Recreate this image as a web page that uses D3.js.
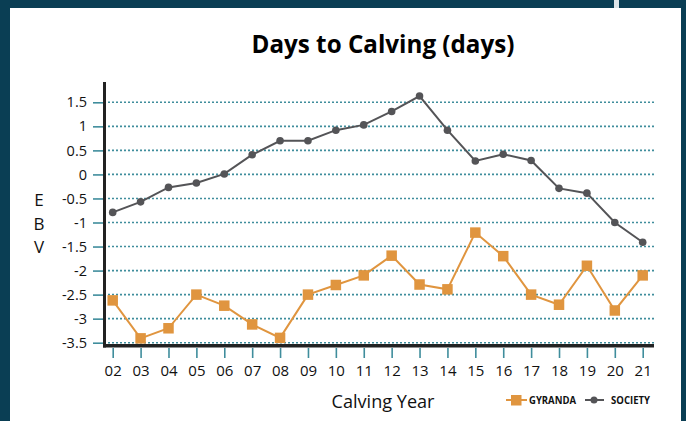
<!DOCTYPE html>
<html>
<head>
<meta charset="utf-8">
<script src="https://cdn.jsdelivr.net/npm/d3@7"></script>
<style>
  html, body { margin: 0; padding: 0; background: #0a3e54; }
  svg { display: block; }
</style>
</head>
<body>
<div id="chart"></div>
<script>
// calving years on the x axis
const years = ['02', '03', '04', '05', '06', '07', '08', '09', '10', '11', '12', '13', '14', '15', '16', '17', '18', '19', '20', '21'];

// EBV values
const gyranda = [-2.62, -3.41, -3.2, -2.5, -2.73, -3.12, -3.4, -2.5, -2.3, -2.1, -1.69, -2.29, -2.39, -1.21, -1.7, -2.5, -2.71, -1.9, -2.83, -2.1];
const society = [-0.79, -0.57, -0.27, -0.18, 0.01, 0.41, 0.7, 0.7, 0.92, 1.03, 1.31, 1.63, 0.92, 0.28, 0.42, 0.29, -0.29, -0.39, -1.0, -1.41];

const yTicks = [1.5, 1, 0.5, 0, -0.5, -1, -1.5, -2, -2.5, -3, -3.5];
const yTickLabels = ['1.5', '1', '0.5', '0', '-0.5', '-1', '-1.5', '-2', '-2.5', '-3', '-3.5'];

const width = 686;
const height = 421;
const orange = '#e0953f';
const grey = '#545457';
const teal = '#3f8d9c';
const font = '"Open Sans", "DejaVu Sans", sans-serif';

const svg = d3.select('#chart')
  .append('svg')
  .attr('width', width)
  .attr('height', height);

// dark frame and white panel
svg.append('rect').attr('width', width).attr('height', height).attr('fill', '#0a3e54');
svg.append('rect').attr('x', 10).attr('y', 8).attr('width', 671).attr('height', height - 8).attr('fill', '#fff');
svg.append('rect').attr('x', 614).attr('y', 0).attr('width', 5).attr('height', 8).attr('fill', '#dde5e8');

const x = d3.scalePoint().domain(years).range([112.7, 642.7]);
const y = d3.scaleLinear().domain([-3.5, 1.5]).range([342.7, 102.3]);

// title
svg.append('text')
  .attr('x', 383).attr('y', 53.3)
  .attr('text-anchor', 'middle')
  .attr('font-family', font)
  .attr('font-weight', 700)
  .attr('font-size', 25)
  .attr('textLength', 263)
  .attr('lengthAdjust', 'spacingAndGlyphs')
  .attr('fill', '#000')
  .text('Days to Calving (days)');

// dotted gridlines
svg.append('g')
  .selectAll('line')
  .data(yTicks)
  .enter()
  .append('line')
  .attr('x1', 104).attr('x2', 654)
  .attr('y1', d => y(d)).attr('y2', d => y(d))
  .attr('stroke', teal)
  .attr('stroke-width', 1.6)
  .attr('stroke-dasharray', '2,2');

// y axis ticks and labels
const yAxis = svg.append('g')
  .attr('transform', 'translate(104,0)')
  .call(d3.axisLeft(y).tickValues(yTicks).tickFormat((d, i) => yTickLabels[i]).tickSize(11).tickPadding(6));
yAxis.select('.domain').remove();
yAxis.selectAll('.tick line').attr('stroke', teal).attr('stroke-width', 1.6);
yAxis.selectAll('.tick text')
  .attr('font-family', font)
  .attr('font-size', 14.5)
  .attr('fill', '#111');

// x axis ticks and labels
const xAxis = svg.append('g')
  .attr('transform', 'translate(0,348)')
  .call(d3.axisBottom(x).tickSize(10).tickPadding(7));
xAxis.select('.domain').remove();
xAxis.selectAll('.tick line').attr('stroke', teal).attr('stroke-width', 1.6);
xAxis.selectAll('.tick text')
  .attr('font-family', font)
  .attr('font-size', 15)
  .attr('fill', '#111');

// heavy axis lines
svg.append('line')
  .attr('x1', 104.5).attr('x2', 104.5).attr('y1', 82).attr('y2', 347.5)
  .attr('stroke', '#222').attr('stroke-width', 3);
svg.append('line')
  .attr('x1', 103).attr('x2', 654).attr('y1', 345.8).attr('y2', 345.8)
  .attr('stroke', '#222').attr('stroke-width', 3.5);

// series lines
const line = d3.line()
  .x((d, i) => x(years[i]))
  .y(d => y(d));

svg.append('path')
  .attr('d', line(society))
  .attr('fill', 'none')
  .attr('stroke', grey)
  .attr('stroke-width', 2);

svg.append('path')
  .attr('d', line(gyranda))
  .attr('fill', 'none')
  .attr('stroke', orange)
  .attr('stroke-width', 2);

svg.append('g')
  .selectAll('circle')
  .data(society)
  .enter()
  .append('circle')
  .attr('cx', (d, i) => x(years[i]))
  .attr('cy', d => y(d))
  .attr('r', 3.8)
  .attr('fill', grey);

const sq = 10.5;
svg.append('g')
  .selectAll('rect')
  .data(gyranda)
  .enter()
  .append('rect')
  .attr('x', (d, i) => x(years[i]) - sq / 2)
  .attr('y', d => y(d) - sq / 2)
  .attr('width', sq)
  .attr('height', sq)
  .attr('fill', orange);

// axis titles
svg.append('text')
  .attr('x', 383).attr('y', 408)
  .attr('text-anchor', 'middle')
  .attr('font-family', font)
  .attr('font-size', 17.5)
  .attr('textLength', 103)
  .attr('lengthAdjust', 'spacingAndGlyphs')
  .attr('fill', '#111')
  .text('Calving Year');

svg.append('g')
  .selectAll('text')
  .data(['E', 'B', 'V'])
  .enter()
  .append('text')
  .attr('x', 39)
  .attr('y', (d, i) => 206 + i * 23.5)
  .attr('text-anchor', 'middle')
  .attr('font-family', font)
  .attr('font-size', 17)
  .attr('fill', '#111')
  .text(d => d);

// legend
const legend = svg.append('g').attr('font-family', font).attr('font-weight', 700).attr('font-size', 11);
legend.append('line').attr('x1', 506).attr('x2', 527).attr('y1', 400).attr('y2', 400).attr('stroke', orange).attr('stroke-width', 2);
legend.append('rect').attr('x', 511).attr('y', 395).attr('width', 10.5).attr('height', 10.5).attr('fill', orange);
legend.append('text').attr('x', 529).attr('y', 404).attr('textLength', 47).attr('lengthAdjust', 'spacingAndGlyphs').attr('fill', '#111').text('GYRANDA');
legend.append('line').attr('x1', 585).attr('x2', 604).attr('y1', 400).attr('y2', 400).attr('stroke', grey).attr('stroke-width', 2);
legend.append('circle').attr('cx', 594).attr('cy', 400).attr('r', 3.5).attr('fill', grey);
legend.append('text').attr('x', 611).attr('y', 404).attr('textLength', 39).attr('lengthAdjust', 'spacingAndGlyphs').attr('fill', '#111').text('SOCIETY');
</script>
</body>
</html>
